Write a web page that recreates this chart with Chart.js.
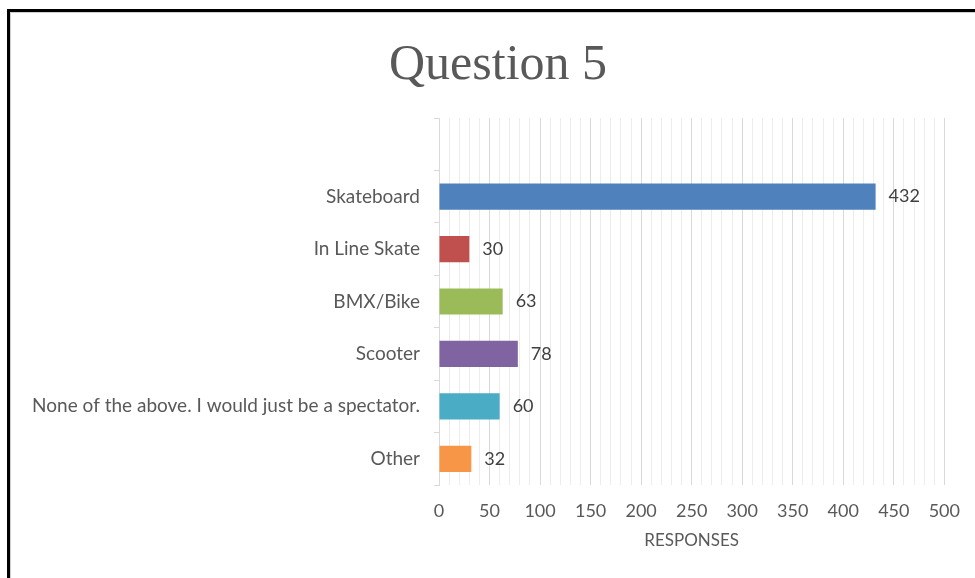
<!DOCTYPE html>
<html>
<head>
<meta charset="utf-8">
<script src="https://cdn.jsdelivr.net/npm/chart.js@4/dist/chart.umd.min.js"></script>
<style>
  html, body { margin: 0; padding: 0; background: #fff; overflow: hidden; }
  #wrap { position: relative; width: 975px; height: 578px; }
  #frame { position: absolute; left: 7px; top: 9px; width: 2000px; height: 2000px;
           border: 3px solid #000; box-shadow: inset 1px 1px 0 #cfcfcf; pointer-events: none; }
  canvas { position: absolute; left: 0; top: 0; }
</style>
</head>
<body>
<div id="wrap">
  <canvas id="c" width="975" height="578"></canvas>
  <div id="frame"></div>
</div>
<script>
const titleText = "Question 5";
const axisTitle = "RESPONSES";
const categories = ["", "Skateboard", "In Line Skate", "BMX/Bike", "Scooter", "None of the above. I would just be a spectator.", "Other"];
const responses = [null, 432, 30, 63, 78, 60, 32];
const barColors = ["#4F81BD", "#4F81BD", "#C0504D", "#9BBB59", "#8064A2", "#4BACC6", "#F79646"];
const xMin = 0, xMax = 500, xStep = 10, xLabelStep = 50;

const fam = "Lato, 'Open Sans', sans-serif";

const valueLabels = {
  id: "valueLabels",
  afterDatasetsDraw(chart) {
    const ctx = chart.ctx;
    const meta = chart.getDatasetMeta(0);
    ctx.save();
    ctx.font = "18px " + fam;
    ctx.fillStyle = "#404040";
    ctx.textAlign = "left";
    ctx.textBaseline = "middle";
    meta.data.forEach((bar, i) => {
      const v = chart.data.datasets[0].data[i];
      if (v === null || v === undefined) return;
      ctx.fillText(String(v), bar.x + 13, bar.y);
    });
    ctx.restore();
  }
};

new Chart(document.getElementById("c"), {
  type: "bar",
  data: {
    labels: categories,
    datasets: [{
      data: responses,
      backgroundColor: barColors,
      categoryPercentage: 1,
      barPercentage: 0.5
    }]
  },
  options: {
    indexAxis: "y",
    responsive: false,
    animation: false,
    layout: { padding: { left: 21, right: 0, top: 10, bottom: 0 } },
    plugins: {
      legend: { display: false },
      tooltip: { enabled: false },
      title: {
        display: true,
        text: titleText,
        color: "#595959",
        font: { family: "'Liberation Serif', serif", size: 50, weight: "normal", lineHeight: 1.2 },
        padding: { top: 26, bottom: 22 }
      }
    },
    scales: {
      x: {
        min: xMin, max: xMax,
        afterFit(scale) { scale.height = 93; },
        border: { display: false },
        grid: {
          drawTicks: false,
          color: (c) => (c.tick && c.tick.value % xLabelStep === 0) ? "#d9d9d9" : "#ececec",
          lineWidth: 1
        },
        ticks: {
          stepSize: xStep,
          autoSkip: false,
          maxRotation: 0,
          padding: 15,
          color: "#595959",
          font: { family: fam, size: 18 },
          callback: (v) => (v % xLabelStep === 0 ? v : "")
        },
        title: {
          display: true,
          text: axisTitle,
          color: "#595959",
          font: { family: fam, size: 17 },
          padding: { top: 0, bottom: 27 }
        }
      },
      y: {
        afterFit(scale) { scale.width = 418; },
        border: { display: true, color: "#d9d9d9", width: 1 },
        grid: {
          offset: true,
          drawOnChartArea: false,
          drawTicks: true,
          tickLength: 5,
          color: "#d9d9d9"
        },
        ticks: {
          autoSkip: false,
          padding: 14,
          color: "#595959",
          font: { family: fam, size: 19 }
        }
      },
      yRight: {
        type: "category",
        position: "right",
        display: true,
        afterFit(scale) { scale.width = 30; },
        border: { display: false },
        grid: { display: false, drawTicks: false },
        ticks: { display: false }
      }
    }
  },
  plugins: [valueLabels]
});
</script>
</body>
</html>
